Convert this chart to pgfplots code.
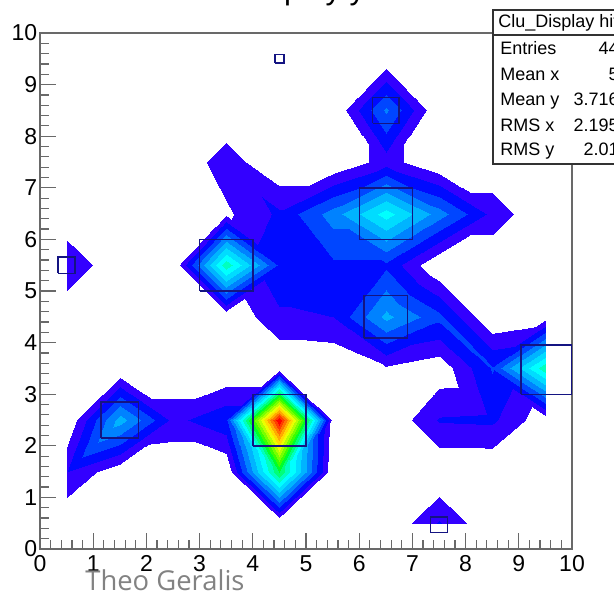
\begin{filecontents*}[overwrite]{tris.dat}
0 1 11
0 11 10
3 4 13
4 14 13
4 5 15
4 15 14
6 7 17
6 17 16
7 8 17
8 18 17
10 11 21
10 21 20
11 12 22
11 22 21
12 13 22
13 23 22
13 14 23
14 24 23
14 15 25
14 25 24
16 17 26
17 27 26
17 18 27
18 28 27
18 19 29
18 29 28
20 21 31
20 31 30
21 22 31
22 32 31
22 23 33
22 33 32
23 24 34
23 34 33
24 25 34
25 35 34
26 27 37
26 37 36
27 28 37
28 38 37
28 29 38
29 39 38
33 34 43
34 44 43
34 35 44
35 45 44
35 36 45
36 46 45
36 37 47
36 47 46
37 38 47
38 48 47
38 39 49
38 49 48
40 41 51
40 51 50
42 43 52
43 53 52
43 44 54
43 54 53
44 45 55
44 55 54
45 46 56
45 56 55
46 47 57
46 57 56
47 48 57
48 58 57
50 51 60
51 61 60
52 53 63
52 63 62
53 54 63
54 64 63
54 55 64
55 65 64
55 56 65
56 66 65
56 57 67
56 67 66
57 58 68
57 68 67
58 59 69
58 69 68
62 63 72
63 73 72
63 64 73
64 74 73
64 65 75
64 75 74
65 66 76
65 76 75
66 67 76
67 77 76
67 68 77
68 78 77
68 69 78
69 79 78
72 73 83
72 83 82
73 74 83
74 84 83
75 76 85
76 86 85
76 77 87
76 87 86
85 86 96
85 96 95
86 87 96
87 97 96
\end{filecontents*}
\documentclass[border=0pt]{standalone}
\usepackage{fontspec}
\setmainfont{Liberation Sans}
\newfontfamily\wmfont{Open Sans}
\usepackage{pgfplots}
\pgfplotsset{compat=1.18}
\usepgfplotslibrary{patchplots}
\definecolor{framec}{RGB}{105,105,105}
\definecolor{boxc}{RGB}{20,20,130}
\definecolor{statc}{RGB}{50,50,50}
\begin{document}
\begin{tikzpicture}
\begin{axis}[
  at={(0,0)}, anchor=south west,
  scale only axis, width=266pt, height=258pt,
  xmin=0, xmax=10, ymin=0, ymax=10,
  xtick={0,...,10}, ytick={0,...,10}, minor tick num=4,
  tick align=inside, xtick pos=left, ytick pos=left,
  major tick length=8pt, minor tick length=4.5pt,
  every tick/.style={framec, line width=0.6pt},
  axis line style={framec, line width=1pt},
  ticklabel style={font=\fontsize{11.5}{13}\selectfont},
  yticklabel style={inner xsep=1.2pt},
  xticklabel style={inner ysep=3pt},
  /pgf/number format/assume math mode=true,
  colormap={rootc}{rgb255(0)=(255,255,255) rgb255(1)=(51,0,255) rgb255(2)=(0,10,255)
    rgb255(3)=(0,70,255) rgb255(4)=(0,130,255) rgb255(5)=(0,180,255) rgb255(6)=(0,220,255)
    rgb255(7)=(0,255,255) rgb255(8)=(0,255,190) rgb255(9)=(0,255,120) rgb255(10)=(0,255,40)
    rgb255(11)=(60,255,0) rgb255(12)=(120,255,0) rgb255(13)=(180,255,0) rgb255(14)=(235,255,0)
    rgb255(15)=(255,220,0) rgb255(16)=(255,170,0) rgb255(17)=(255,115,0) rgb255(18)=(255,60,0)
    rgb255(19)=(255,0,0) rgb255(20)=(255,0,0)},
  colormap access=piecewise constant,
  point meta min=0, point meta max=20,
]
\addplot[patch, patch type=triangle, shader=interp, point meta=explicit, patch table={tris.dat}]
  table[x=x, y=y, meta=z] {
x y z
0.5 0.5 0
1.5 0.5 0
2.5 0.5 0
3.5 0.5 0
4.5 0.5 0
5.5 0.5 0
6.5 0.5 0
7.5 0.5 2.1
8.5 0.5 0
9.5 0.5 0
0.5 1.5 2.0
1.5 1.5 0.2
2.5 1.5 0
3.5 1.5 0
4.5 1.5 10
5.5 1.5 0
6.5 1.5 0
7.5 1.5 0
8.5 1.5 0
9.5 1.5 0
0.5 2.5 0
1.5 2.5 5.5
2.5 2.5 1.7
3.5 2.5 2.8
4.5 2.5 20
5.5 2.5 0.4
6.5 2.5 0
7.5 2.5 2.1
8.5 2.5 2.2
9.5 2.5 0.3
0.5 3.5 0
1.5 3.5 0
2.5 3.5 0
3.5 3.5 0
4.5 3.5 0
5.5 3.5 0
6.5 3.5 0.9
7.5 3.5 0.3
8.5 3.5 3.1
9.5 3.5 8.7
0.5 4.5 0
1.5 4.5 0
2.5 4.5 0
3.5 4.5 0
4.5 4.5 1.8
5.5 4.5 2.0
6.5 4.5 5.3
7.5 4.5 3.3
8.5 4.5 0
9.5 4.5 0.5
0.5 5.5 1.95
1.5 5.5 0
2.5 5.5 0
3.5 5.5 8.7
4.5 5.5 2.8
5.5 5.5 2.8
6.5 5.5 2.8
7.5 5.5 0
8.5 5.5 0
9.5 5.5 0
0.5 6.5 0
1.5 6.5 0
2.5 6.5 0
3.5 6.5 0.8
4.5 6.5 2.2
5.5 6.5 4.5
6.5 6.5 7.5
7.5 6.5 4.5
8.5 6.5 1.7
9.5 6.5 0
0.5 7.5 0
1.5 7.5 0
2.5 7.5 0
3.5 7.5 1.6
4.5 7.5 0
5.5 7.5 0
6.5 7.5 1.5
7.5 7.5 0
8.5 7.5 0
9.5 7.5 0
0.5 8.5 0
1.5 8.5 0
2.5 8.5 0
3.5 8.5 0
4.5 8.5 0
5.5 8.5 0
6.5 8.5 4.2
7.5 8.5 0
8.5 8.5 0
9.5 8.5 0
0.5 9.5 0
1.5 9.5 0
2.5 9.5 0
3.5 9.5 0
4.5 9.5 0.5
5.5 9.5 0
6.5 9.5 0.3
7.5 9.5 0
8.5 9.5 0
9.5 9.5 0
};
% boxes
\pgfplotsset{bx/.style={draw=boxc, line width=0.7pt, mark=none}}
\addplot[bx] coordinates {(4.415,9.415) (4.585,9.415) (4.585,9.585) (4.415,9.585) (4.415,9.415)};
\addplot[bx] coordinates {(6.25,8.25) (6.75,8.25) (6.75,8.75) (6.25,8.75) (6.25,8.25)};
\addplot[bx] coordinates {(6.0,6.0) (7.0,6.0) (7.0,7.0) (6.0,7.0) (6.0,6.0)};
\addplot[bx] coordinates {(3.0,5.0) (4.0,5.0) (4.0,6.0) (3.0,6.0) (3.0,5.0)};
\addplot[bx] coordinates {(6.09,4.09) (6.91,4.09) (6.91,4.91) (6.09,4.91) (6.09,4.09)};
\addplot[bx] coordinates {(9.04,3.0) (9.99,3.0) (9.99,3.95) (9.04,3.95) (9.04,3.0)};
\addplot[bx] coordinates {(4.0,2.0) (5.0,2.0) (5.0,3.0) (4.0,3.0) (4.0,2.0)};
\addplot[bx] coordinates {(1.15,2.15) (1.85,2.15) (1.85,2.85) (1.15,2.85) (1.15,2.15)};
\addplot[bx] coordinates {(0.34,5.34) (0.66,5.34) (0.66,5.66) (0.34,5.66) (0.34,5.34)};
\addplot[bx] coordinates {(7.34,0.32) (7.66,0.32) (7.66,0.62) (7.34,0.62) (7.34,0.32)};
\end{axis}
% title (mostly cut off)
\node[anchor=base west, inner sep=0, font=\fontsize{15.5}{18}\selectfont] at (99.5pt,275pt) {Display y vs x};
% stats box
\draw[draw=statc, line width=0.7pt, fill=white] (226.5pt,192.5pt) rectangle (292.5pt,269.5pt);
\draw[statc, line width=0.7pt] (226.5pt,257pt) -- (292.5pt,257pt);
\begin{scope}[every node/.style={inner sep=0, font=\fontsize{9}{10}\selectfont}]
\node[anchor=base west] at (229pt,260.65pt) {Clu\_Display hits};
\node[anchor=base west] at (230pt,247.25pt) {Entries};
\node[anchor=base west] at (230pt,234.25pt) {Mean x};
\node[anchor=base west] at (230pt,221.75pt) {Mean y};
\node[anchor=base west] at (230pt,209pt) {RMS x};
\node[anchor=base west] at (230pt,196.75pt) {RMS y};
\node[anchor=base east] at (289.5pt,247.25pt) {44};
\node[anchor=base east] at (289.5pt,234.25pt) {5};
\node[anchor=base east] at (289.5pt,221.75pt) {3.716};
\node[anchor=base east] at (289.5pt,209pt) {2.195};
\node[anchor=base east] at (289.5pt,196.75pt) {2.01};
\end{scope}
% watermark
\node[anchor=base west, inner sep=0, text={rgb,255:red,130;green,130;blue,130}, font=\wmfont\fontsize{13.7}{16}\selectfont] at (22.5pt,-20.5pt) {Theo Geralis};
\pgfresetboundingbox
\path[use as bounding box] (-20pt,-21pt) rectangle (287pt,274.5pt);
\end{tikzpicture}
\end{document}
